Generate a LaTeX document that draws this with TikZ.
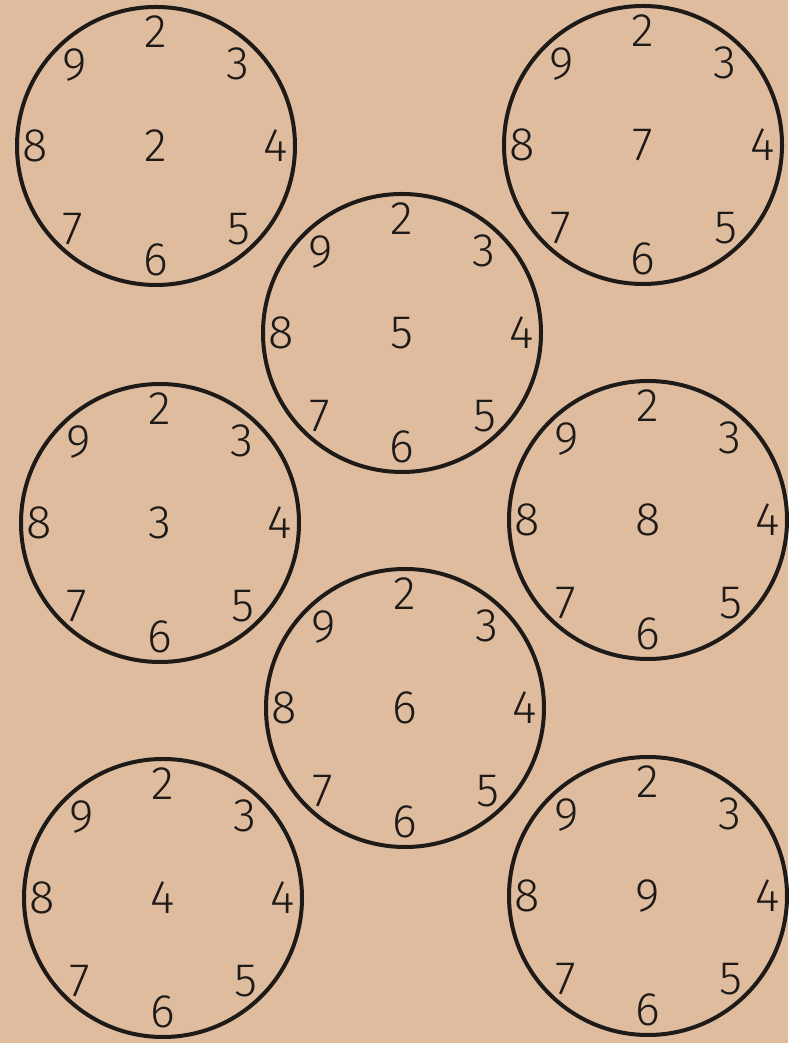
\documentclass[tikz,border=0pt]{standalone}
\usepackage{fontspec}
\setsansfont{Fira Sans Light}
\usepackage{tikz}
\usetikzlibrary{positioning}
\definecolor{cPaper}{HTML}{E0BC9F}
\definecolor{cInk}{HTML}{1E1A18}

\begin{document}
\begin{tikzpicture}[x=1pt, y=1pt,
    dial/.style={circle, draw=cInk, line width=4pt, minimum size=278pt, inner sep=0pt},
    num/.style={text=cInk, inner sep=0pt, font=\fontsize{47}{47}\selectfont\sffamily},
]

% === PAPER ===
\fill[cPaper] (0,0) rectangle (788,1043);
\useasboundingbox (0,0) rectangle (788,1043);

% === DIALS: circle, middle digit ===
\node[dial] (dA) at (156,897) {};
\node[num] (mA) at (dA.center) {2};

\node[dial] (dB) at (643,898) {};
\node[num] (mB) at (dB.center) {7};

\node[dial] (dC) at (402,710) {};
\node[num] (mC) at (dC.center) {5};

\node[dial] (dD) at (160,520) {};
\node[num] (mD) at (dD.center) {3};

\node[dial] (dE) at (648,523) {};
\node[num] (mE) at (dE.center) {8};

\node[dial] (dF) at (405,335) {};
\node[num] (mF) at (dF.center) {6};

\node[dial] (dG) at (163,145) {};
\node[num] (mG) at (dG.center) {4};

\node[dial] (dH) at (648,147) {};
\node[num] (mH) at (dH.center) {9};

% === RING DIGITS 2..9 round every dial ===
\foreach \d in {A,B,C,D,E,F,G,H}
  \foreach \n/\a/\r in {2/90/114, 3/45/116, 4/0/120, 5/-45/117,
                        6/-90/114, 7/-135/117, 8/180/121, 9/135/115}
    \node[num] (\d-\n) at ([shift={(\a:\r)}]d\d.center) {\n};

\end{tikzpicture}
\end{document}
